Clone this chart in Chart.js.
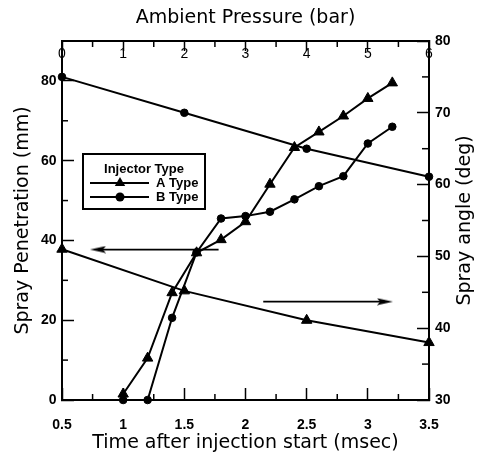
<!DOCTYPE html>
<html><head><meta charset="utf-8">
<script src="https://cdn.jsdelivr.net/npm/chart.js@4/dist/chart.umd.min.js"></script>
<style>html,body{margin:0;padding:0;background:#fff}canvas{display:block}</style>
</head><body>
<canvas id="c" width="478" height="457"></canvas>
<script>
// ---- data ----
const timeA = [1.0, 1.2, 1.4, 1.6, 1.8, 2.0, 2.2, 2.4, 2.6, 2.8, 3.0, 3.2];
const penetrationA = [1.5, 10.5, 26.9, 36.9, 40.2, 44.7, 54.1, 63.3, 67.2, 71.2, 75.6, 79.5];
const timeB = [1.0, 1.2, 1.4, 1.6, 1.8, 2.0, 2.2, 2.4, 2.6, 2.8, 3.0, 3.2];
const penetrationB = [0, 0, 20.6, 37.0, 45.5, 46.1, 47.2, 50.3, 53.6, 56.1, 64.3, 68.5];
const pressure = [0, 2, 4, 6];
const sprayAngleA = [51.0, 45.2, 41.1, 38.0];
const sprayAngleB = [75.0, 70.0, 65.0, 61.1];
// arrow annotations (data units)
const leftArrowTime = [1.78, 0.794];
const leftArrowPen = [37.7, 37.7];
const rightArrowPressure = [3.29, 5.28];
const rightArrowAngle = [43.7, 43.7];
// tick labels
const timeTickLabels = ['0.5', '1', '1.5', '2', '2.5', '3', '3.5'];
const pressureTickLabels = ['0', '1', '2', '3', '4', '5', '6'];
const penetrationTickLabels = ['0', '20', '40', '60', '80'];
const angleTickLabels = ['30', '40', '50', '60', '70', '80'];
const seriesNames = ['A Type', 'B Type'];

const pts = (xs, ys) => xs.map((x, i) => ({x, y: ys[i]}));
const SANS = "'Liberation Sans', Arial, sans-serif";
const TITLE = "'DejaVu Sans', sans-serif";

// arrowhead image used as point style
function arrowHead() {
  const c = document.createElement('canvas');
  c.width = 16; c.height = 8;
  const g = c.getContext('2d');
  g.fillStyle = '#000';
  g.beginPath(); g.moveTo(16, 4); g.lineTo(0, 0.5); g.lineTo(3, 4); g.lineTo(0, 7.5); g.closePath(); g.fill();
  return c;
}
const head = arrowHead();

const minorTicks = {
  id: 'minorTicks',
  afterDraw(chart) {
    const ctx = chart.ctx, a = chart.chartArea;
    ctx.save();
    ctx.strokeStyle = '#000'; ctx.lineWidth = 1.5;
    const mids = s => { const t = s.ticks.map(k => k.value); const m = []; for (let i = 0; i < t.length - 1; i++) m.push((t[i] + t[i + 1]) / 2); return m; };
    const L = 6;
    mids(chart.scales.x).forEach(v => { const p = chart.scales.x.getPixelForValue(v); ctx.beginPath(); ctx.moveTo(p, a.bottom); ctx.lineTo(p, a.bottom - L); ctx.stroke(); });
    mids(chart.scales.x2).forEach(v => { const p = chart.scales.x2.getPixelForValue(v); ctx.beginPath(); ctx.moveTo(p, a.top); ctx.lineTo(p, a.top + L); ctx.stroke(); });
    mids(chart.scales.y).forEach(v => { const p = chart.scales.y.getPixelForValue(v); ctx.beginPath(); ctx.moveTo(a.left, p); ctx.lineTo(a.left + L, p); ctx.stroke(); });
    mids(chart.scales.y2).forEach(v => { const p = chart.scales.y2.getPixelForValue(v); ctx.beginPath(); ctx.moveTo(a.right, p); ctx.lineTo(a.right - L - 1, p); ctx.stroke(); });
    ctx.restore();
  }
};

const rightTitle = {
  id: 'rightTitle',
  afterDraw(chart) {
    const ctx = chart.ctx, a = chart.chartArea;
    ctx.save();
    ctx.translate(465, (a.top + a.bottom) / 2);
    ctx.rotate(-Math.PI / 2);
    ctx.font = '19px ' + TITLE;
    ctx.fillStyle = '#000'; ctx.textAlign = 'center'; ctx.textBaseline = 'middle';
    ctx.fillText('Spray angle (deg)', 0, 0);
    ctx.restore();
  }
};

const legendBox = {
  id: 'legendBox',
  afterDraw(chart) {
    const ctx = chart.ctx, a = chart.chartArea;
    const x0 = a.left + 21, y0 = a.top + 113, w = 122, h = 55;
    ctx.save();
    ctx.fillStyle = '#fff'; ctx.fillRect(x0, y0, w, h);
    ctx.strokeStyle = '#000'; ctx.lineWidth = 2; ctx.strokeRect(x0, y0, w, h);
    ctx.fillStyle = '#000';
    ctx.font = 'bold 13px ' + SANS; ctx.textAlign = 'center'; ctx.textBaseline = 'middle';
    ctx.fillText('Injector Type', x0 + 61, y0 + 15);
    const rows = [y0 + 29, y0 + 43];
    rows.forEach((y, i) => {
      ctx.lineWidth = 2;
      ctx.beginPath(); ctx.moveTo(x0 + 7, y); ctx.lineTo(x0 + 66, y); ctx.stroke();
      const mx = x0 + 37;
      ctx.beginPath();
      if (i === 0) { const r = 6; ctx.moveTo(mx, y - r); ctx.lineTo(mx + r * 0.866, y + r / 2); ctx.lineTo(mx - r * 0.866, y + r / 2); ctx.closePath(); }
      else { ctx.arc(mx, y, 4.5, 0, Math.PI * 2); }
      ctx.fill();
      ctx.textAlign = 'left';
      ctx.fillText(seriesNames[i], x0 + 73, y);
    });
    ctx.restore();
  }
};

const lineBase = {borderColor: '#000', backgroundColor: '#000', borderWidth: 2, pointBorderWidth: 1, pointBorderColor: '#000', pointBackgroundColor: '#000', tension: 0, clip: false, fill: false};

new Chart(document.getElementById('c'), {
  type: 'line',
  data: {
    datasets: [
      {...lineBase, label: seriesNames[0], data: pts(timeA, penetrationA), xAxisID: 'x', yAxisID: 'y', pointStyle: 'triangle', pointRadius: 6},
      {...lineBase, label: seriesNames[1], data: pts(timeB, penetrationB), xAxisID: 'x', yAxisID: 'y', pointStyle: 'circle', pointRadius: 3.8},
      {...lineBase, label: 'A angle', data: pts(pressure, sprayAngleA), xAxisID: 'x2', yAxisID: 'y2', pointStyle: 'triangle', pointRadius: 6},
      {...lineBase, label: 'B angle', data: pts(pressure, sprayAngleB), xAxisID: 'x2', yAxisID: 'y2', pointStyle: 'circle', pointRadius: 3.8},
      {...lineBase, label: 'arrow L', data: pts(leftArrowTime, leftArrowPen), xAxisID: 'x', yAxisID: 'y', borderWidth: 1.8, pointStyle: head, pointRadius: [0, 8], pointRotation: [0, 180]},
      {...lineBase, label: 'arrow R', data: pts(rightArrowPressure, rightArrowAngle), xAxisID: 'x2', yAxisID: 'y2', borderWidth: 1.8, pointStyle: head, pointRadius: [0, 8], pointRotation: [0, 0]}
    ]
  },
  options: {
    responsive: false,
    animation: false,
    devicePixelRatio: 1,
    layout: {padding: 0},
    plugins: {legend: {display: false}, tooltip: {enabled: false}},
    scales: {
      x: {
        type: 'linear', position: 'bottom', min: 0.5, max: 3.5,
        afterFit: s => { s.height = 57; },
        border: {display: true, width: 2, color: '#000'},
        grid: {drawOnChartArea: false, drawTicks: true, tickLength: -12, tickWidth: 1.5, tickColor: '#000'},
        ticks: {stepSize: 0.5, padding: 29, color: '#000', font: {family: SANS, size: 14, weight: 'bold'},
          callback: (v, i) => timeTickLabels[i]},
        title: {display: true, text: 'Time after injection start (msec)', color: '#000', font: {family: TITLE, size: 19}, padding: {top: 0, bottom: 3}}
      },
      x2: {
        type: 'linear', position: 'top', min: 0, max: 6,
        afterFit: s => { s.height = 41; },
        border: {display: true, width: 2, color: '#000'},
        grid: {drawOnChartArea: false, drawTicks: true, tickLength: -10, tickWidth: 1.5, tickColor: '#000'},
        ticks: {stepSize: 1, mirror: true, padding: 5, color: '#000', font: {family: SANS, size: 14},
          callback: (v, i) => pressureTickLabels[i]},
        title: {display: true, text: 'Ambient Pressure (bar)', color: '#000', font: {family: TITLE, size: 19}, padding: {top: 7, bottom: 0}}
      },
      y: {
        type: 'linear', position: 'left', min: 0, max: 90,
        afterFit: s => { s.width = 62; },
        border: {display: true, width: 2, color: '#000'},
        grid: {drawOnChartArea: false, drawTicks: true, tickLength: -12, tickWidth: 1.5, tickColor: '#000'},
        ticks: {stepSize: 20, includeBounds: false, padding: 17.5, color: '#000', font: {family: SANS, size: 14, weight: 'bold'},
          callback: (v, i) => penetrationTickLabels[i]},
        title: {display: true, text: 'Spray Penetration (mm)', color: '#000', font: {family: TITLE, size: 19}, padding: {top: 12, bottom: 0}}
      },
      y2: {
        type: 'linear', position: 'right', min: 30, max: 80,
        afterFit: s => { s.width = 49; },
        border: {display: true, width: 2, color: '#000'},
        grid: {drawOnChartArea: false, drawTicks: true, tickLength: -12, tickWidth: 1.5, tickColor: '#000'},
        ticks: {stepSize: 10, padding: 18, color: '#000', font: {family: SANS, size: 14, weight: 'bold'},
          callback: (v, i) => angleTickLabels[i]},
        title: {display: false}
      }
    }
  },
  plugins: [minorTicks, rightTitle, legendBox]
});
</script>
</body></html>
